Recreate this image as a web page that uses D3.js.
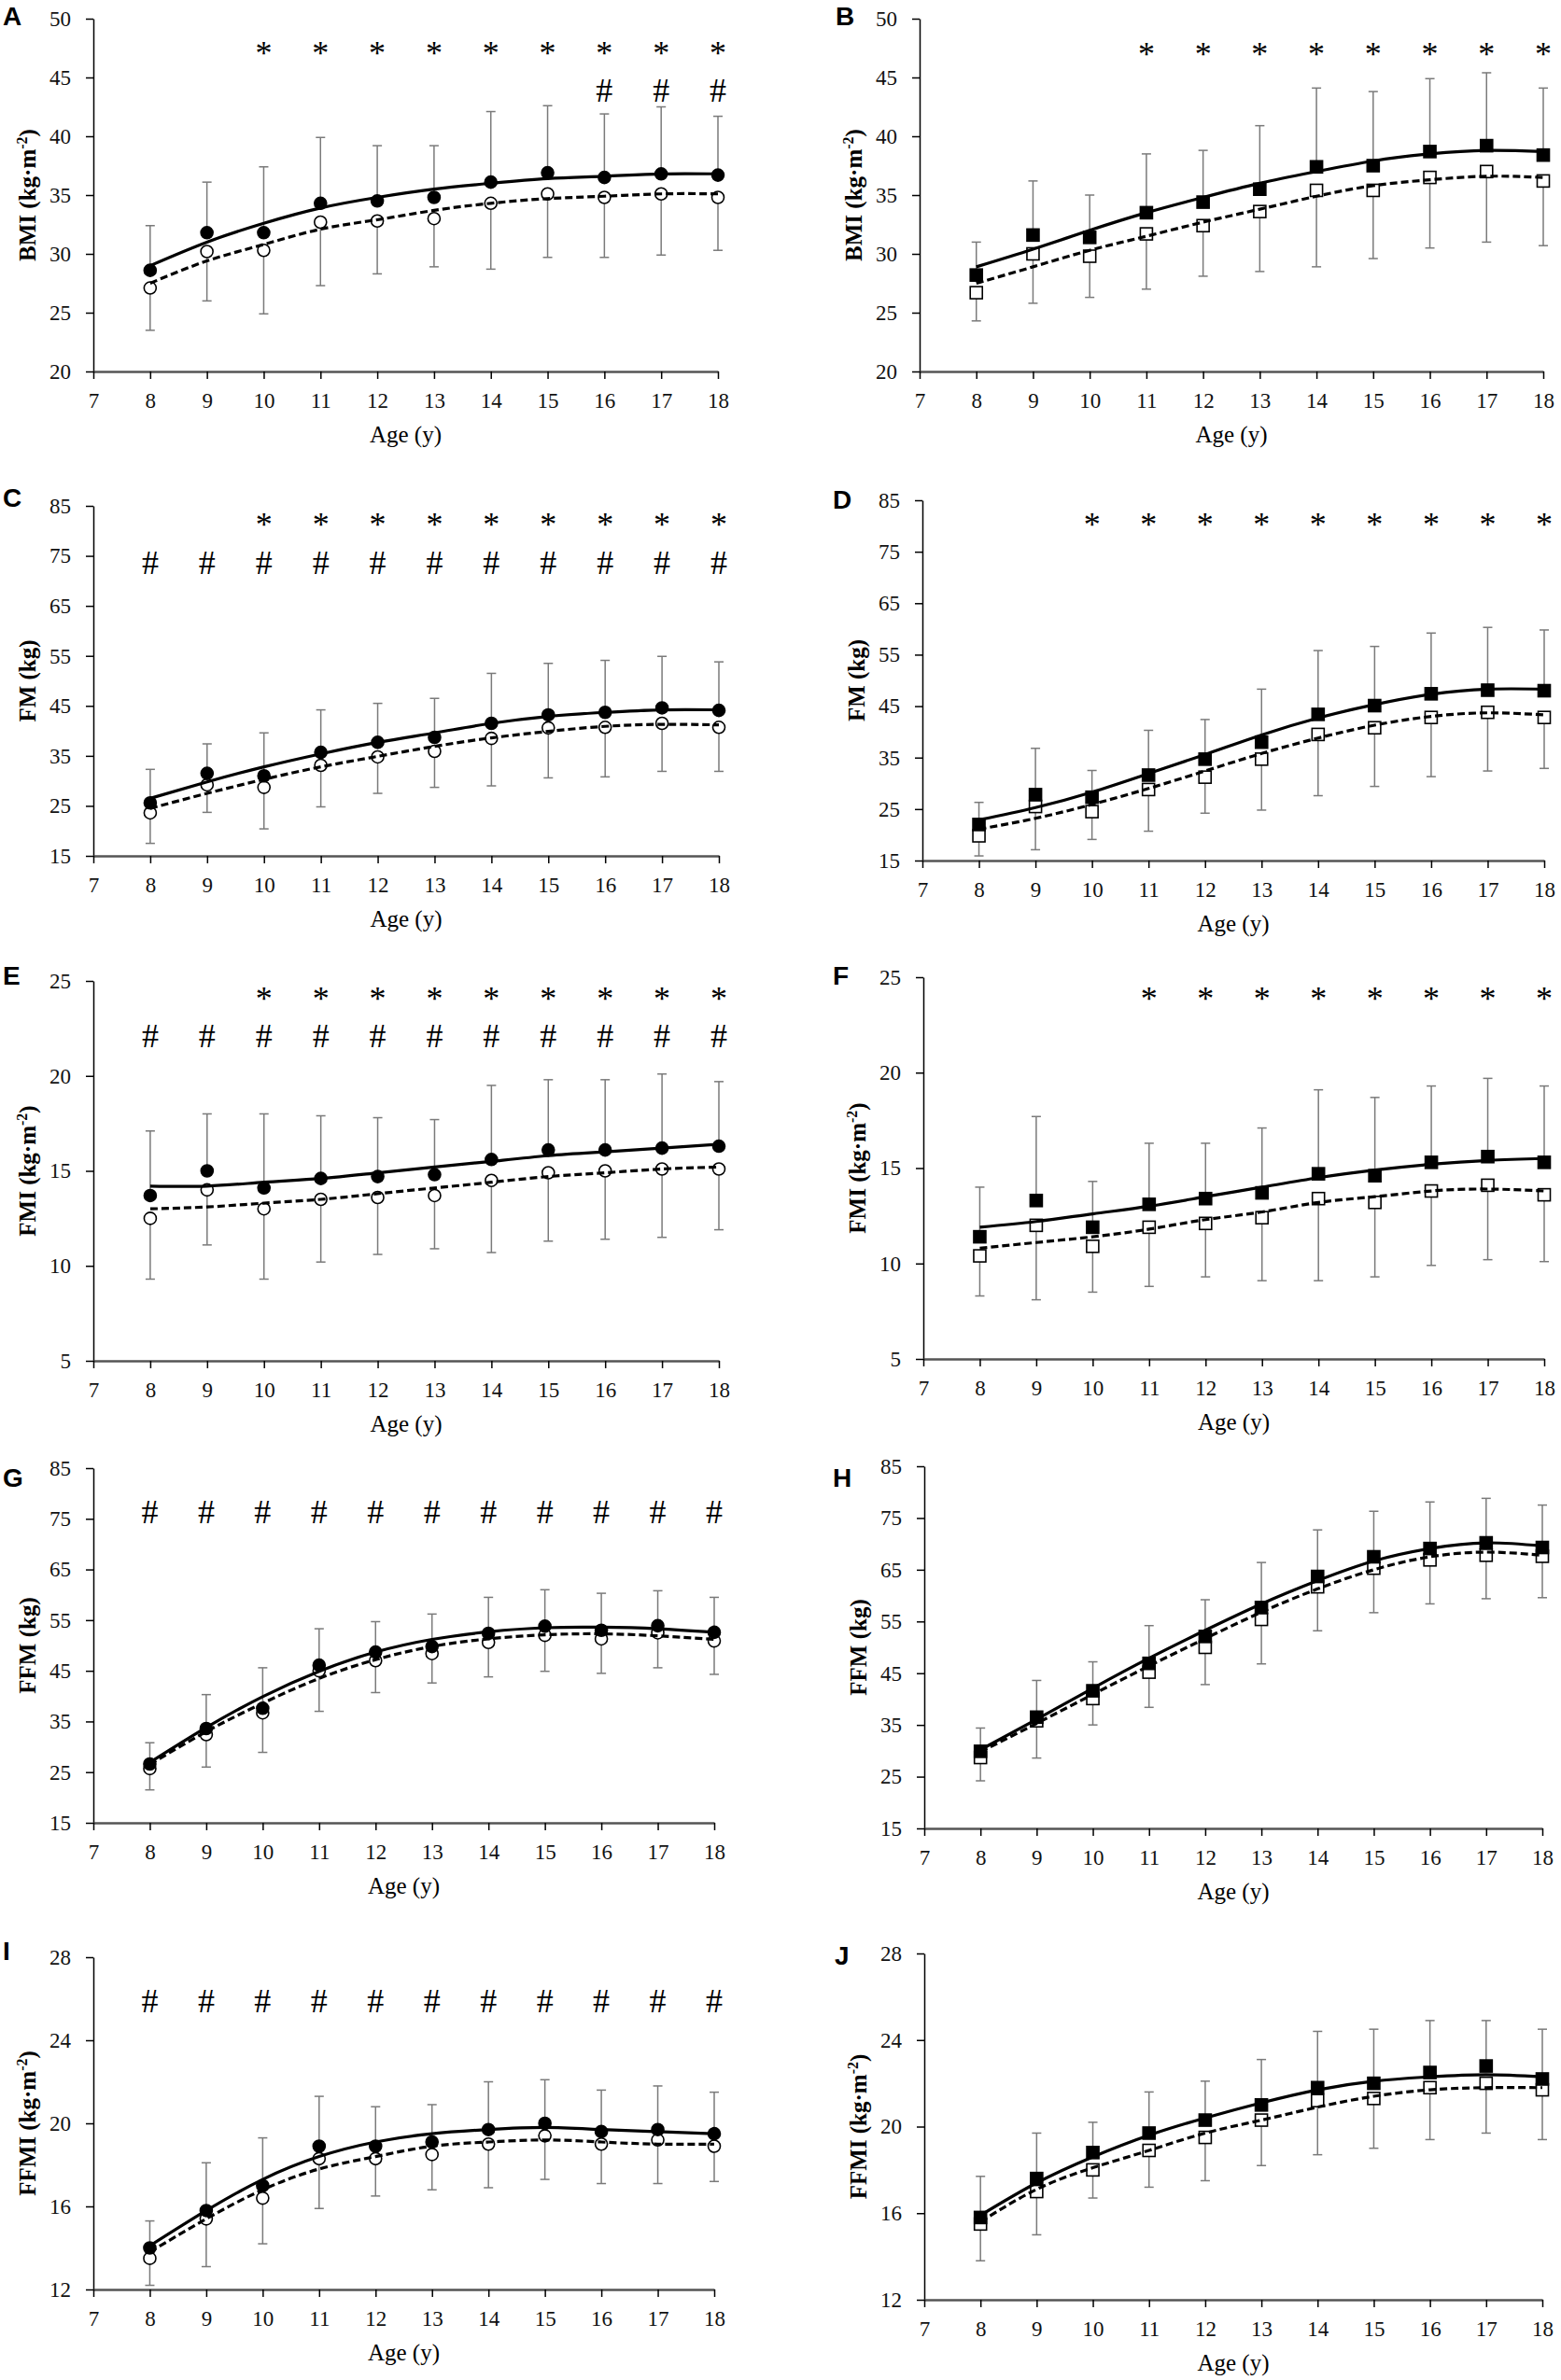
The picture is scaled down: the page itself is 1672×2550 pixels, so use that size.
<!doctype html>
<html>
<head>
<meta charset="utf-8">
<style>
  body { margin: 0; background: #fff; }
  svg { display: block; }
  .tick text { font-family: "Liberation Serif", "Times New Roman", serif; font-size: 23px; fill: #111; }
</style>
</head>
<body>
<script src="https://cdn.jsdelivr.net/npm/d3@7"></script>
<script>
  var width = 1672,
      height = 2550;

  var ages = [8, 9, 10, 11, 12, 13, 14, 15, 16, 17, 18];
  var xTicks = [7, 8, 9, 10, 11, 12, 13, 14, 15, 16, 17, 18];

  // A - BMI, circles
  var aFilled    = [28.6, 31.8, 31.8, 34.3, 34.5, 34.8, 36.1, 36.9, 36.5, 36.8, 36.7];
  var aOpen      = [27.1, 30.2, 30.3, 32.7, 32.8, 33.0, 34.3, 35.1, 34.8, 35.1, 34.8];
  var aUpper     = [32.4, 36.1, 37.4, 39.9, 39.2, 39.2, 42.1, 42.6, 41.9, 42.5, 41.7];
  var aLower     = [23.5, 26.0, 24.9, 27.3, 28.3, 28.9, 28.7, 29.7, 29.7, 29.9, 30.3];
  var aFitFilled = [29.0, 31.0, 32.6, 33.9, 34.8, 35.5, 36.0, 36.4, 36.6, 36.8, 36.8];
  var aFitOpen   = [27.5, 29.4, 30.8, 32.1, 32.9, 33.7, 34.3, 34.7, 34.9, 35.1, 35.1];
  var aStars  = [10, 11, 12, 13, 14, 15, 16, 17, 18];
  var aHashes = [16, 17, 18];

  // B - BMI, squares
  var bFilled    = [28.2, 31.6, 31.4, 33.5, 34.4, 35.5, 37.4, 37.5, 38.7, 39.2, 38.4];
  var bOpen      = [26.7, 30.0, 29.8, 31.7, 32.4, 33.6, 35.4, 35.4, 36.5, 37.0, 36.2];
  var bUpper     = [31.0, 36.2, 35.0, 38.5, 38.8, 40.9, 44.1, 43.8, 44.9, 45.4, 44.1];
  var bLower     = [24.3, 25.8, 26.3, 27.0, 28.1, 28.5, 28.9, 29.6, 30.5, 31.0, 30.7];
  var bFitFilled = [28.9, 30.4, 32.0, 33.5, 34.8, 36.0, 37.0, 37.9, 38.5, 38.8, 38.7];
  var bFitOpen   = [27.5, 28.9, 30.3, 31.5, 32.7, 33.8, 34.9, 35.8, 36.3, 36.6, 36.5];
  var bStars  = [11, 12, 13, 14, 15, 16, 17, 18];
  var bHashes = [];

  // C - FM, circles
  var cFilled    = [25.6, 31.5, 31.0, 35.7, 37.7, 38.7, 41.5, 43.2, 43.7, 44.6, 44.1];
  var cOpen      = [23.6, 29.2, 28.7, 33.1, 34.8, 35.9, 38.5, 40.6, 40.7, 41.5, 40.7];
  var cUpper     = [32.3, 37.4, 39.6, 44.2, 45.5, 46.5, 51.5, 53.5, 54.1, 54.9, 53.8];
  var cLower     = [17.5, 23.7, 20.4, 24.8, 27.5, 28.7, 29.0, 30.6, 30.8, 31.9, 31.9];
  var cFitFilled = [26.5, 29.8, 32.8, 35.4, 37.7, 39.6, 41.5, 42.9, 43.7, 44.2, 44.2];
  var cFitOpen   = [24.5, 27.5, 30.3, 32.8, 34.9, 36.9, 38.6, 39.9, 40.9, 41.3, 41.2];
  var cStars  = [10, 11, 12, 13, 14, 15, 16, 17, 18];
  var cHashes = [8, 9, 10, 11, 12, 13, 14, 15, 16, 17, 18];

  // D - FM, squares
  var dFilled    = [22.0, 27.8, 27.3, 31.6, 34.7, 38.0, 43.4, 45.1, 47.4, 48.1, 48.0];
  var dOpen      = [19.8, 25.5, 24.5, 28.8, 31.2, 34.7, 39.5, 40.8, 42.8, 43.8, 42.8];
  var dUpper     = [26.3, 36.8, 32.5, 40.3, 42.4, 48.3, 55.8, 56.6, 59.2, 60.3, 59.8];
  var dLower     = [15.9, 17.1, 19.1, 20.7, 24.2, 24.8, 27.6, 29.4, 31.3, 32.4, 32.9];
  var dFitFilled = [22.9, 25.3, 28.3, 31.9, 35.6, 39.4, 42.7, 45.3, 47.3, 48.3, 48.3];
  var dFitOpen   = [21.1, 23.2, 25.9, 29.0, 32.4, 35.8, 38.8, 41.3, 43.0, 43.7, 43.3];
  var dStars  = [10, 11, 12, 13, 14, 15, 16, 17, 18];
  var dHashes = [];

  // E - FMI, circles
  var eFilled    = [13.7, 15.0, 14.1, 14.6, 14.7, 14.8, 15.6, 16.1, 16.1, 16.2, 16.3];
  var eOpen      = [12.5, 14.0, 13.0, 13.5, 13.6, 13.7, 14.5, 14.9, 15.0, 15.1, 15.1];
  var eUpper     = [17.1, 18.0, 18.0, 17.9, 17.8, 17.7, 19.5, 19.8, 19.8, 20.1, 19.7];
  var eLower     = [9.3, 11.1, 9.3, 10.2, 10.6, 10.9, 10.7, 11.3, 11.4, 11.5, 11.9];
  var eFitFilled = [14.2, 14.2, 14.4, 14.6, 14.9, 15.2, 15.5, 15.8, 16.0, 16.2, 16.4];
  var eFitOpen   = [13.0, 13.1, 13.3, 13.5, 13.8, 14.1, 14.4, 14.7, 14.9, 15.1, 15.2];
  var eStars  = [10, 11, 12, 13, 14, 15, 16, 17, 18];
  var eHashes = [8, 9, 10, 11, 12, 13, 14, 15, 16, 17, 18];

  // F - FMI, squares
  var fFilled    = [11.4, 13.3, 11.9, 13.1, 13.4, 13.7, 14.7, 14.6, 15.3, 15.6, 15.3];
  var fOpen      = [10.4, 12.0, 10.9, 11.9, 12.1, 12.4, 13.4, 13.2, 13.8, 14.1, 13.6];
  var fUpper     = [14.0, 17.7, 14.3, 16.3, 16.3, 17.1, 19.1, 18.7, 19.3, 19.7, 19.3];
  var fLower     = [8.3, 8.1, 8.5, 8.8, 9.3, 9.1, 9.1, 9.3, 9.9, 10.2, 10.1];
  var fFitFilled = [11.9, 12.2, 12.6, 13.0, 13.5, 14.0, 14.5, 14.9, 15.2, 15.4, 15.5];
  var fFitOpen   = [10.8, 11.1, 11.4, 11.8, 12.3, 12.7, 13.2, 13.5, 13.8, 13.9, 13.8];
  var fStars  = [11, 12, 13, 14, 15, 16, 17, 18];
  var fHashes = [];

  // G - FFM, circles
  var gFilled    = [26.6, 33.6, 37.6, 46.1, 48.7, 49.8, 52.4, 53.8, 53.0, 53.9, 52.6];
  var gOpen      = [25.7, 32.4, 36.7, 45.0, 47.0, 48.4, 50.6, 52.0, 51.3, 52.5, 50.9];
  var gUpper     = [30.8, 40.3, 45.6, 53.3, 54.7, 56.2, 59.5, 61.0, 60.3, 60.8, 59.5];
  var gLower     = [21.5, 26.0, 28.9, 37.0, 40.7, 42.6, 43.8, 44.9, 44.5, 45.6, 44.3];
  var gFitFilled = [26.9, 33.8, 39.9, 44.9, 48.7, 51.2, 52.7, 53.5, 53.6, 53.3, 52.6];
  var gFitOpen   = [26.5, 33.0, 38.6, 43.5, 47.2, 49.8, 51.3, 52.1, 52.3, 51.9, 51.2];
  var gStars  = [];
  var gHashes = [8, 9, 10, 11, 12, 13, 14, 15, 16, 17, 18];

  // H - FFM, squares
  var hFilled    = [29.9, 36.5, 41.6, 46.9, 52.1, 57.7, 63.7, 67.5, 69.1, 70.2, 69.3];
  var hOpen      = [28.7, 35.8, 40.1, 45.2, 50.0, 55.4, 61.7, 65.3, 66.9, 67.8, 67.6];
  var hUpper     = [34.4, 43.6, 47.2, 54.2, 59.2, 66.4, 72.7, 76.3, 78.1, 78.8, 77.5];
  var hLower     = [24.2, 28.6, 35.0, 38.4, 42.8, 46.8, 53.2, 56.7, 58.4, 59.4, 59.6];
  var hFitFilled = [30.2, 36.1, 42.1, 47.9, 53.3, 58.4, 62.9, 66.7, 69.1, 70.2, 69.6];
  var hFitOpen   = [29.8, 35.3, 40.9, 46.4, 51.7, 56.8, 61.3, 65.0, 67.5, 68.4, 67.8];
  var hStars  = [];
  var hHashes = [];

  // I - FFMI, circles
  var iFilled    = [14.0, 15.8, 17.0, 18.9, 18.9, 19.1, 19.7, 20.0, 19.6, 19.7, 19.5];
  var iOpen      = [13.5, 15.4, 16.4, 18.3, 18.3, 18.5, 19.0, 19.4, 19.0, 19.2, 18.9];
  var iUpper     = [15.3, 18.1, 19.3, 21.3, 20.8, 20.9, 22.0, 22.1, 21.6, 21.8, 21.5];
  var iLower     = [12.2, 13.1, 14.2, 15.9, 16.5, 16.8, 16.9, 17.3, 17.1, 17.1, 17.2];
  var iFitFilled = [14.1, 15.8, 17.3, 18.4, 19.1, 19.5, 19.7, 19.8, 19.7, 19.6, 19.5];
  var iFitOpen   = [13.8, 15.4, 16.8, 17.8, 18.4, 18.9, 19.1, 19.2, 19.1, 19.0, 19.0];
  var iStars  = [];
  var iHashes = [8, 9, 10, 11, 12, 13, 14, 15, 16, 17, 18];

  // J - FFMI, squares
  var jFilled    = [15.8, 17.6, 18.8, 19.7, 20.3, 21.0, 21.8, 22.0, 22.5, 22.8, 22.2];
  var jOpen      = [15.5, 17.0, 18.0, 18.9, 19.5, 20.3, 21.2, 21.3, 21.8, 22.0, 21.7];
  var jUpper     = [17.7, 19.7, 20.2, 21.6, 22.1, 23.1, 24.4, 24.5, 24.9, 24.9, 24.5];
  var jLower     = [13.8, 15.0, 16.7, 17.2, 17.5, 18.2, 18.7, 19.0, 19.4, 19.7, 19.4];
  var jFitFilled = [15.9, 17.4, 18.6, 19.6, 20.4, 21.1, 21.7, 22.1, 22.3, 22.4, 22.3];
  var jFitOpen   = [15.6, 17.1, 18.1, 18.9, 19.7, 20.3, 20.9, 21.4, 21.7, 21.8, 21.8];
  var jStars  = [];
  var jHashes = [];

  var bmiTicks  = [20, 25, 30, 35, 40, 45, 50];
  var fmTicks   = [15, 25, 35, 45, 55, 65, 75, 85];
  var fmiTicks  = [5, 10, 15, 20, 25];
  var ffmiTicks = [12, 16, 20, 24, 28];

  // panel layout in page pixels
  var panels = [
    {id: 'A', label: ['BMI (kg·m', '-2', ')'], ticks: bmiTicks, marker: 'circle', x0: 100, x1: 769, top: 20, bottom: 398, letterX: 3, letterY: 27, starAt: 47.5, hashAt: 43.9,
     filled: aFilled, open: aOpen, upper: aUpper, lower: aLower, fitFilled: aFitFilled, fitOpen: aFitOpen, stars: aStars, hashes: aHashes},
    {id: 'B', label: ['BMI (kg·m', '-2', ')'], ticks: bmiTicks, marker: 'square', x0: 985, x1: 1653, top: 20, bottom: 398, letterX: 895, letterY: 27, starAt: 47.4, hashAt: 0,
     filled: bFilled, open: bOpen, upper: bUpper, lower: bLower, fitFilled: bFitFilled, fitOpen: bFitOpen, stars: bStars, hashes: bHashes},
    {id: 'C', label: ['FM (kg)'], ticks: fmTicks, marker: 'circle', x0: 100, x1: 770, top: 542, bottom: 917, letterX: 3, letterY: 543, starAt: 82.2, hashAt: 73.6,
     filled: cFilled, open: cOpen, upper: cUpper, lower: cLower, fitFilled: cFitFilled, fitOpen: cFitOpen, stars: cStars, hashes: cHashes},
    {id: 'D', label: ['FM (kg)'], ticks: fmTicks, marker: 'square', x0: 988, x1: 1654, top: 536, bottom: 922, letterX: 892, letterY: 545, starAt: 81.2, hashAt: 0,
     filled: dFilled, open: dOpen, upper: dUpper, lower: dLower, fitFilled: dFitFilled, fitOpen: dFitOpen, stars: dStars, hashes: dHashes},
    {id: 'E', label: ['FMI (kg·m', '-2', ')'], ticks: fmiTicks, marker: 'circle', x0: 100, x1: 770, top: 1051, bottom: 1458, letterX: 3, letterY: 1055, starAt: 24.3, hashAt: 22.1,
     filled: eFilled, open: eOpen, upper: eUpper, lower: eLower, fitFilled: eFitFilled, fitOpen: eFitOpen, stars: eStars, hashes: eHashes},
    {id: 'F', label: ['FMI (kg·m', '-2', ')'], ticks: fmiTicks, marker: 'square', x0: 989, x1: 1654, top: 1047, bottom: 1456, letterX: 892, letterY: 1055, starAt: 24.1, hashAt: 0,
     filled: fFilled, open: fOpen, upper: fUpper, lower: fLower, fitFilled: fFitFilled, fitOpen: fFitOpen, stars: fStars, hashes: fHashes},
    {id: 'G', label: ['FFM (kg)'], ticks: fmTicks, marker: 'circle', x0: 100, x1: 765, top: 1573, bottom: 1953, letterX: 3, letterY: 1593, starAt: 0, hashAt: 76.3,
     filled: gFilled, open: gOpen, upper: gUpper, lower: gLower, fitFilled: gFitFilled, fitOpen: gFitOpen, stars: gStars, hashes: gHashes},
    {id: 'H', label: ['FFM (kg)'], ticks: fmTicks, marker: 'square', x0: 990, x1: 1652, top: 1571, bottom: 1959, letterX: 892, letterY: 1593, starAt: 0, hashAt: 0,
     filled: hFilled, open: hOpen, upper: hUpper, lower: hLower, fitFilled: hFitFilled, fitOpen: hFitOpen, stars: hStars, hashes: hHashes},
    {id: 'I', label: ['FFMI (kg·m', '-2', ')'], ticks: ffmiTicks, marker: 'circle', x0: 100, x1: 765, top: 2097, bottom: 2453, letterX: 3, letterY: 2100, starAt: 0, hashAt: 25.9,
     filled: iFilled, open: iOpen, upper: iUpper, lower: iLower, fitFilled: iFitFilled, fitOpen: iFitOpen, stars: iStars, hashes: iHashes},
    {id: 'J', label: ['FFMI (kg·m', '-2', ')'], ticks: ffmiTicks, marker: 'square', x0: 990, x1: 1652, top: 2093, bottom: 2464, letterX: 894, letterY: 2105, starAt: 0, hashAt: 0,
     filled: jFilled, open: jOpen, upper: jUpper, lower: jLower, fitFilled: jFitFilled, fitOpen: jFitOpen, stars: jStars, hashes: jHashes}
  ];

  var serif = '"Liberation Serif", "Times New Roman", serif';

  var svg = d3.select('body').append('svg')
      .attr('width', width)
      .attr('height', height)
      .style('background', '#fff');

  var drawPanel = function (p) {
    var x = d3.scaleLinear().domain([7, 18]).range([p.x0, p.x1]);
    var y = d3.scaleLinear().domain([p.ticks[0], p.ticks[p.ticks.length - 1]]).range([p.bottom, p.top]);
    var g = svg.append('g');

    // axes
    var yAxis = g.append('g')
        .attr('transform', 'translate(' + p.x0 + ',0)')
        .call(d3.axisLeft(y).tickValues(p.ticks).tickSize(8).tickSizeOuter(0).tickPadding(16));
    yAxis.select('.domain').attr('stroke', '#000').attr('stroke-width', 1.5);
    yAxis.selectAll('.tick line').attr('stroke', '#000').attr('stroke-width', 1.5);

    var xAxis = g.append('g')
        .attr('transform', 'translate(0,' + p.bottom + ')')
        .call(d3.axisBottom(x).tickValues(xTicks).tickSize(8).tickSizeOuter(0).tickPadding(14));
    xAxis.select('.domain').attr('stroke', '#555').attr('stroke-width', 2.6);
    xAxis.selectAll('.tick line').attr('stroke', '#000').attr('stroke-width', 1.5);
    xAxis.selectAll('.tick text').attr('dy', '0.73em');

    // axis titles
    g.append('text')
        .attr('x', (p.x0 + p.x1) / 2)
        .attr('y', p.bottom + 76)
        .attr('text-anchor', 'middle')
        .style('font-family', serif)
        .style('font-size', '25px')
        .text('Age (y)');

    var yl = g.append('text')
        .attr('transform', 'translate(' + (p.x0 - 62) + ',' + ((p.top + p.bottom) / 2) + ') rotate(-90)')
        .attr('text-anchor', 'middle')
        .style('font-family', serif)
        .style('font-size', '25px')
        .style('font-weight', 'bold');
    yl.append('tspan').text(p.label[0]);
    if (p.label.length > 1) {
      yl.append('tspan').attr('dy', -9).style('font-size', '16px').text(p.label[1]);
      yl.append('tspan').attr('dy', 9).text(p.label[2]);
    }

    // panel letter
    g.append('text')
        .attr('x', p.letterX)
        .attr('y', p.letterY)
        .style('font-family', '"Liberation Sans", Arial, sans-serif')
        .style('font-size', '28px')
        .style('font-weight', 'bold')
        .text(p.id);

    // error bars: +SD on the filled series, -SD on the open series
    var bars = g.append('g').attr('stroke', '#7a7a7a').attr('stroke-width', 1.5);
    ages.forEach(function (a, i) {
      var cx = x(a);
      bars.append('line').attr('x1', cx).attr('x2', cx).attr('y1', y(p.filled[i])).attr('y2', y(p.upper[i]));
      bars.append('line').attr('x1', cx - 5).attr('x2', cx + 5).attr('y1', y(p.upper[i])).attr('y2', y(p.upper[i]));
      bars.append('line').attr('x1', cx).attr('x2', cx).attr('y1', y(p.open[i])).attr('y2', y(p.lower[i]));
      bars.append('line').attr('x1', cx - 5).attr('x2', cx + 5).attr('y1', y(p.lower[i])).attr('y2', y(p.lower[i]));
    });

    // markers
    var drawMarkers = function (values, fill) {
      var m = g.append('g');
      if (p.marker === 'circle') {
        m.selectAll('circle').data(values).enter().append('circle')
            .attr('cx', function (d, i) { return x(ages[i]); })
            .attr('cy', function (d) { return y(d); })
            .attr('r', 6.5)
            .attr('fill', fill)
            .attr('stroke', '#000')
            .attr('stroke-width', 1.6);
      } else {
        m.selectAll('rect').data(values).enter().append('rect')
            .attr('x', function (d, i) { return x(ages[i]) - 6.5; })
            .attr('y', function (d) { return y(d) - 6.5; })
            .attr('width', 13)
            .attr('height', 13)
            .attr('fill', fill)
            .attr('stroke', '#000')
            .attr('stroke-width', 1.6);
      }
    };
    drawMarkers(p.open, '#fff');
    drawMarkers(p.filled, '#000');

    // fitted curves
    var line = d3.line()
        .x(function (d, i) { return x(ages[i]); })
        .y(function (d) { return y(d); })
        .curve(d3.curveNatural);
    g.append('path').datum(p.fitFilled).attr('d', line)
        .attr('fill', 'none').attr('stroke', '#000').attr('stroke-width', 3.2);
    g.append('path').datum(p.fitOpen).attr('d', line)
        .attr('fill', 'none').attr('stroke', '#000').attr('stroke-width', 3.2)
        .attr('stroke-dasharray', '8,4');

    // significance marks
    g.selectAll('text.star').data(p.stars).enter().append('text')
        .attr('class', 'star')
        .attr('x', function (d) { return x(d); })
        .attr('y', y(p.starAt) + 17)
        .attr('text-anchor', 'middle')
        .style('font-family', serif)
        .style('font-size', '36px')
        .text('*');
    g.selectAll('text.hash').data(p.hashes).enter().append('text')
        .attr('class', 'hash')
        .attr('x', function (d) { return x(d); })
        .attr('y', y(p.hashAt) + 12)
        .attr('text-anchor', 'middle')
        .style('font-family', serif)
        .style('font-size', '36px')
        .text('#');
  };

  panels.forEach(drawPanel);
</script>
</body>
</html>
